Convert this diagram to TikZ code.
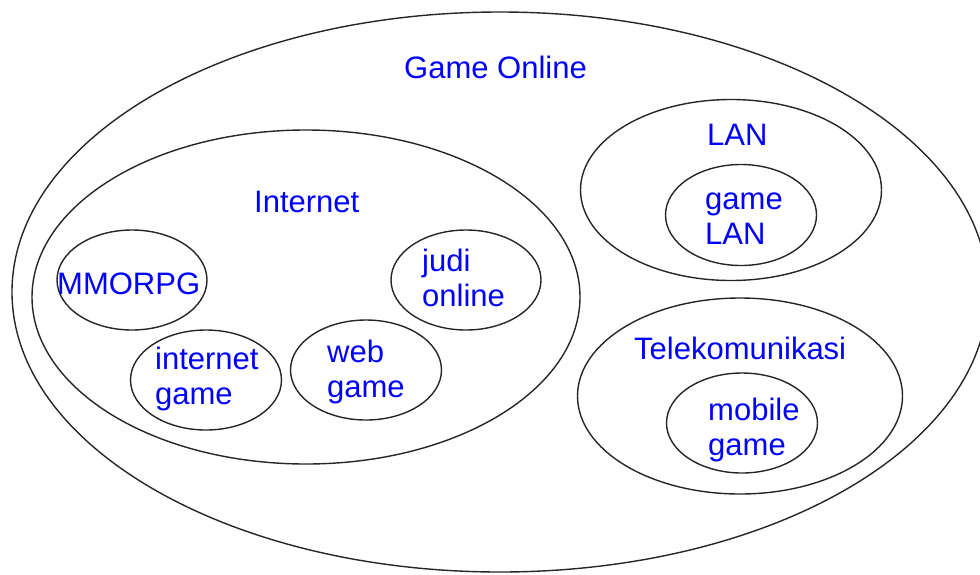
\documentclass[tikz,border=0pt]{standalone}
\usepackage{fontspec}
\setmainfont{Liberation Sans}
\usetikzlibrary{shapes.geometric}
\begin{document}
\begin{tikzpicture}[x=1pt,y=-1pt,
  set/.style={draw=black!85, line width=1.4pt, ellipse, inner sep=0pt},
  lbl/.style={text=blue, font=\fontsize{31}{35}\selectfont, inner sep=0pt, anchor=base west, align=left}]
\useasboundingbox (0,0) rectangle (980,574);
\clip (0,0) rectangle (980,574);
% sets
\node[set, minimum width=976pt, minimum height=560pt] (outer) at (500,292) {};
\node[set, minimum width=548pt, minimum height=334pt] (internet) at (306,297) {};
\node[set, minimum width=150pt, minimum height=100pt] (mmorpg) at (132,280) {};
\node[set, minimum width=150pt, minimum height=100pt] (judi) at (466,280) {};
\node[set, minimum width=151pt, minimum height=100pt] (igame) at (206,380) {};
\node[set, minimum width=151pt, minimum height=100pt] (wgame) at (366,370) {};
\node[set, minimum width=301pt, minimum height=181pt] (lan) at (731,190) {};
\node[set, minimum width=151pt, minimum height=101pt] (glan) at (741,215) {};
\node[set, minimum width=325pt, minimum height=196pt] (tele) at (740,396) {};
\node[set, minimum width=151pt, minimum height=100pt] (mgame) at (742,423) {};
% labels (base anchor = baseline of the last line)
\node[lbl] (tOuter) at (404,78) {Game Online};
\node[lbl] (tInternet) at (254,212) {Internet};
\node[lbl] (tMmorpg) at (57,294) {MMORPG};
\node[lbl] (tJudi) at (422,306) {judi\\online};
\node[lbl] (tIgame) at (155,404) {internet\\game};
\node[lbl] (tWgame) at (327,397) {web\\game};
\node[lbl] (tLan) at (707,145) {LAN};
\node[lbl] (tGlan) at (705,244) {game\\LAN};
\node[lbl] (tTele) at (634,359) {Telekomunikasi};
\node[lbl] (tMgame) at (708,455) {mobile\\game};
\end{tikzpicture}
\end{document}
